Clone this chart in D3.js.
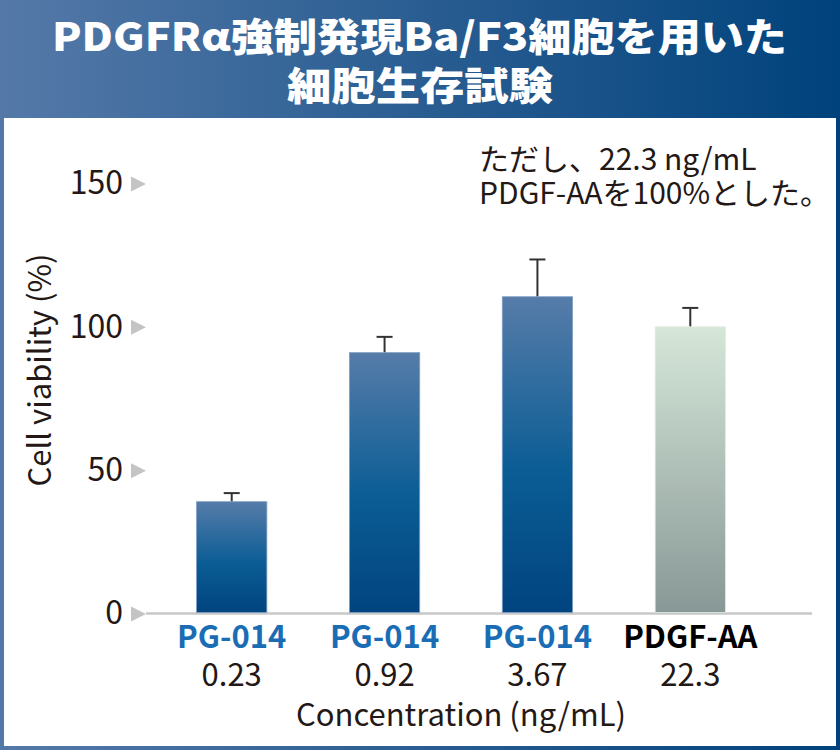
<!DOCTYPE html>
<html lang="ja">
<head>
<meta charset="UTF-8">
<title>PDGFRα強制発現Ba/F3細胞を用いた細胞生存試験</title>
<script src="https://d3js.org/d3.v7.min.js"></script>
<style>
    body { margin: 0; }
    text { font-family: "Noto Sans CJK JP", "Noto Sans", sans-serif; }
</style>
</head>
<body>
<svg id="chart" width="840" height="750"></svg>
<script>
    // data
    const drugs = ["PG-014", "PG-014", "PG-014", "PDGF-AA"];
    const concs = ["0.23", "0.92", "3.67", "22.3"];
    const viability = [39, 91, 110.5, 100];
    const errorUp = [3, 5.5, 13, 6.6];
    const yTicks = [0, 50, 100, 150];

    const svg = d3.select("#chart");
    const W = 840, H = 750;
    const ink = "#231815";

    const defs = svg.append("defs");

    // background frame gradient
    const bg = defs.append("linearGradient").attr("id", "bg");
    bg.append("stop").attr("offset", "0%").attr("stop-color", "#5479a8");
    bg.append("stop").attr("offset", "100%").attr("stop-color", "#00427c");

    const blue = defs.append("linearGradient").attr("id", "blueBar")
        .attr("x1", 0).attr("y1", 0).attr("x2", 0).attr("y2", 1);
    blue.append("stop").attr("offset", "0%").attr("stop-color", "#567ca9");
    blue.append("stop").attr("offset", "55%").attr("stop-color", "#0b5d95");
    blue.append("stop").attr("offset", "100%").attr("stop-color", "#01447f");

    const grey = defs.append("linearGradient").attr("id", "greyBar")
        .attr("x1", 0).attr("y1", 0).attr("x2", 0).attr("y2", 1);
    grey.append("stop").attr("offset", "0%").attr("stop-color", "#d6e7d9");
    grey.append("stop").attr("offset", "100%").attr("stop-color", "#889896");

    svg.append("rect").attr("width", W).attr("height", H).attr("fill", "url(#bg)");
    svg.append("rect").attr("x", 4).attr("y", 118).attr("width", 832).attr("height", 628)
        .attr("fill", "#fff");

    // title (stretched a little to the reference width)
    const title = svg.append("g")
        .attr("fill", "#fff").attr("font-weight", 900).attr("font-size", 39);
    title.append("text").attr("x", 52).attr("y", 51)
        .attr("textLength", 735).attr("lengthAdjust", "spacingAndGlyphs")
        .text("PDGFRα強制発現Ba/F3細胞を用いた");
    title.append("text").attr("x", 287).attr("y", 100)
        .attr("textLength", 266).attr("lengthAdjust", "spacingAndGlyphs")
        .text("細胞生存試験");

    // scales
    const x = d3.scaleBand()
        .domain(d3.range(drugs.length))
        .range([114, 808])
        .padding(0.54);

    const y = d3.scaleLinear()
        .domain([0, 150])
        .range([613.5, 183.5]);

    // y axis with triangle markers
    const yAxis = svg.append("g")
        .attr("transform", "translate(146,0)")
        .call(d3.axisLeft(y).tickValues(yTicks).tickSize(0).tickPadding(23));
    yAxis.select(".domain").remove();
    yAxis.selectAll(".tick text")
        .attr("font-size", 32).attr("fill", ink)
        .style("font-family", '"Noto Sans CJK JP", sans-serif');
    yAxis.selectAll(".tick").append("path")
        .attr("d", "M-15,-7.5L0,0L-15,7.5Z")
        .attr("fill", "#c4c4c4");

    // baseline
    svg.append("line")
        .attr("x1", 146).attr("x2", 812)
        .attr("y1", y(0)).attr("y2", y(0))
        .attr("stroke", "#c8c8c8").attr("stroke-width", 2.5);

    // error bars
    const cap = 8;
    const errs = svg.append("g").selectAll("g")
        .data(viability)
        .join("g");
    errs.append("line")
        .attr("x1", (d, i) => x(i) + x.bandwidth() / 2)
        .attr("x2", (d, i) => x(i) + x.bandwidth() / 2)
        .attr("y1", d => y(d))
        .attr("y2", (d, i) => y(d + errorUp[i]))
        .attr("stroke", "#333").attr("stroke-width", 2);
    errs.append("line")
        .attr("x1", (d, i) => x(i) + x.bandwidth() / 2 - cap)
        .attr("x2", (d, i) => x(i) + x.bandwidth() / 2 + cap)
        .attr("y1", (d, i) => y(d + errorUp[i]))
        .attr("y2", (d, i) => y(d + errorUp[i]))
        .attr("stroke", "#333").attr("stroke-width", 2);

    // bars
    svg.append("g").selectAll("rect")
        .data(viability)
        .join("rect")
        .attr("x", (d, i) => x(i))
        .attr("y", d => y(d))
        .attr("width", x.bandwidth())
        .attr("height", d => y(0) - y(d) - 1)
        .attr("fill", (d, i) => i === 3 ? "url(#greyBar)" : "url(#blueBar)")
        .attr("stroke", (d, i) => i === 3 ? "#e2ece4" : "#7f9fc4")
        .attr("stroke-width", 0.8);

    // x labels
    const xl = svg.append("g").selectAll("g")
        .data(drugs)
        .join("g")
        .attr("transform", (d, i) => `translate(${x(i) + x.bandwidth() / 2},0)`);
    xl.append("text")
        .attr("y", 648).attr("text-anchor", "middle")
        .attr("font-size", 31).attr("font-weight", "bold")
        .attr("fill", (d, i) => i === 3 ? "#000" : "#1a6db4")
        .text(d => d);
    xl.append("text")
        .attr("y", 686).attr("text-anchor", "middle")
        .attr("font-size", 31).attr("fill", ink)
        .text((d, i) => concs[i]);

    svg.append("text")
        .attr("x", 461).attr("y", 726).attr("text-anchor", "middle")
        .attr("font-size", 31).attr("fill", ink)
        .text("Concentration (ng/mL)");

    svg.append("text")
        .attr("transform", "translate(51,370) rotate(-90)")
        .attr("text-anchor", "middle")
        .attr("font-size", 31).attr("fill", ink)
        .text("Cell viability (%)");

    // note
    const note = svg.append("text").attr("font-size", 30).attr("fill", ink);
    note.append("tspan").attr("x", 479).attr("y", 170).text("ただし、22.3 ng/mL");
    note.append("tspan").attr("x", 479).attr("y", 204).text("PDGF-AAを100%とした。");
</script>
</body>
</html>
